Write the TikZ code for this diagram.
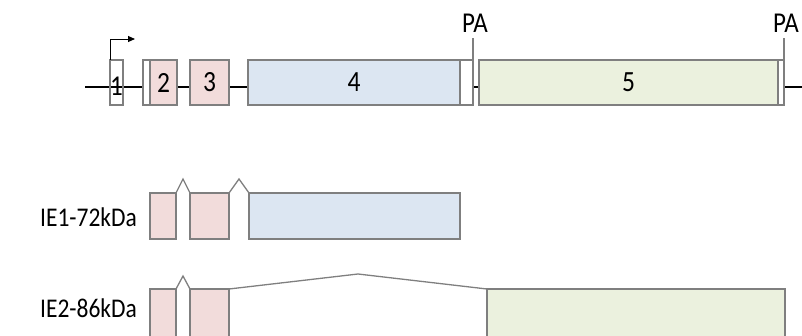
\documentclass[tikz,border=0pt]{standalone}
\usepackage{fontspec}
\usepackage{graphicx}
\setmainfont{Carlito}
\usetikzlibrary{arrows.meta}
\definecolor{exgray}{HTML}{7F7F7F}
\definecolor{pinkc}{HTML}{F2DCDB}
\definecolor{bluec}{HTML}{DCE6F2}
\definecolor{greenc}{HTML}{EBF1DE}
\newcommand{\tallt}[1]{\scalebox{1}[1.15]{#1}}
\tikzset{
  exon/.style={draw=exgray, line width=1.3pt, inner sep=0pt, outer sep=0pt, font=\fontsize{25.5}{25.5}\selectfont},
  lbl/.style={inner sep=0pt, font=\fontsize{25}{25}\selectfont},
  rowlbl/.style={inner sep=0pt, font=\fontsize{23.5}{23.5}\selectfont},
  splice/.style={draw=exgray, line width=1.3pt, line join=miter},
  gene/.style={line width=2.6pt, black},
}
\begin{document}
\begin{tikzpicture}[x=1pt,y=-1pt]
\useasboundingbox (0,0) rectangle (802,335);
\begin{scope}
\clip (0,0) rectangle (802,335);
% ---- genomic row ----
\coordinate (gs) at (85,87);
\coordinate (ge) at (802,87);
\draw[gene] (gs) -- (ge);
\node[exon, minimum width=13pt, minimum height=45pt] (t1) at (116.5,82.5) {};
\node[lbl] (n1) at (116.5,86) {\tallt{1}};
\node[exon, fill=white, minimum width=7pt, minimum height=45pt] (t2w) at (146.5,82.5) {};
\node[exon, fill=pinkc, minimum width=27pt, minimum height=45pt] (t2) at (163.5,82.5) {\tallt{2}};
\node[exon, fill=pinkc, minimum width=39pt, minimum height=45pt] (t3) at (209.5,82.5) {\tallt{3}};
\node[exon, fill=bluec, minimum width=212pt, minimum height=45pt] (t4) at (354,82.5) {\tallt{4}};
\node[exon, fill=white, minimum width=13pt, minimum height=45pt] (t4w) at (466.5,82.5) {};
\node[exon, fill=greenc, minimum width=299pt, minimum height=45pt] (t5) at (628.5,82.5) {\tallt{5}};
\node[exon, fill=white, minimum width=6pt, minimum height=45pt] (t5w) at (781,82.5) {};
% promoter arrow
\coordinate (pr) at (135,39);
\draw[line width=1pt, -{Triangle[length=7pt,width=6pt]}] (t1.north west) -- (t1.north west |- pr) -- (pr);
% PA sites
\node[lbl] (pa1) at (475,23) {\tallt{PA}};
\node[lbl] (pa2) at (786,23) {\tallt{PA}};
\coordinate (pa1t) at (473,38);
\coordinate (pa2t) at (784,38);
\draw[draw=exgray, line width=1.3pt] (pa1t) -- (t4w.north east);
\draw[draw=exgray, line width=1.3pt] (pa2t) -- (t5w.north east);
% ---- IE1 row ----
\node[rowlbl] (ie1) at (88.5,217) {\tallt{IE1-72kDa}};
\node[exon, fill=pinkc, minimum width=26pt, minimum height=46pt] (a2) at (163,216) {};
\node[exon, fill=pinkc, minimum width=39pt, minimum height=46pt] (a3) at (209.5,216) {};
\node[exon, fill=bluec, minimum width=211pt, minimum height=46pt] (a4) at (354.5,216) {};
\coordinate (ap1) at (183,179);
\coordinate (ap2) at (239,179);
\draw[splice] (a2.north east) -- (ap1) -- (a3.north west);
\draw[splice] (a3.north east) -- (ap2) -- (a4.north west);
% ---- IE2 row ----
\node[rowlbl] (ie2) at (88.5,308) {\tallt{IE2-86kDa}};
\node[exon, fill=pinkc, minimum width=26pt, minimum height=60pt] (b2) at (163,319) {};
\node[exon, fill=pinkc, minimum width=39pt, minimum height=60pt] (b3) at (209.5,319) {};
\node[exon, fill=greenc, minimum width=298pt, minimum height=60pt] (b5) at (636,319) {};
\coordinate (bp1) at (183,276);
\coordinate (bp2) at (358,274);
\draw[splice] (b2.north east) -- (bp1) -- (b3.north west);
\draw[splice] (b3.north east) -- (bp2) -- (b5.north west);
\end{scope}
\end{tikzpicture}
\end{document}
